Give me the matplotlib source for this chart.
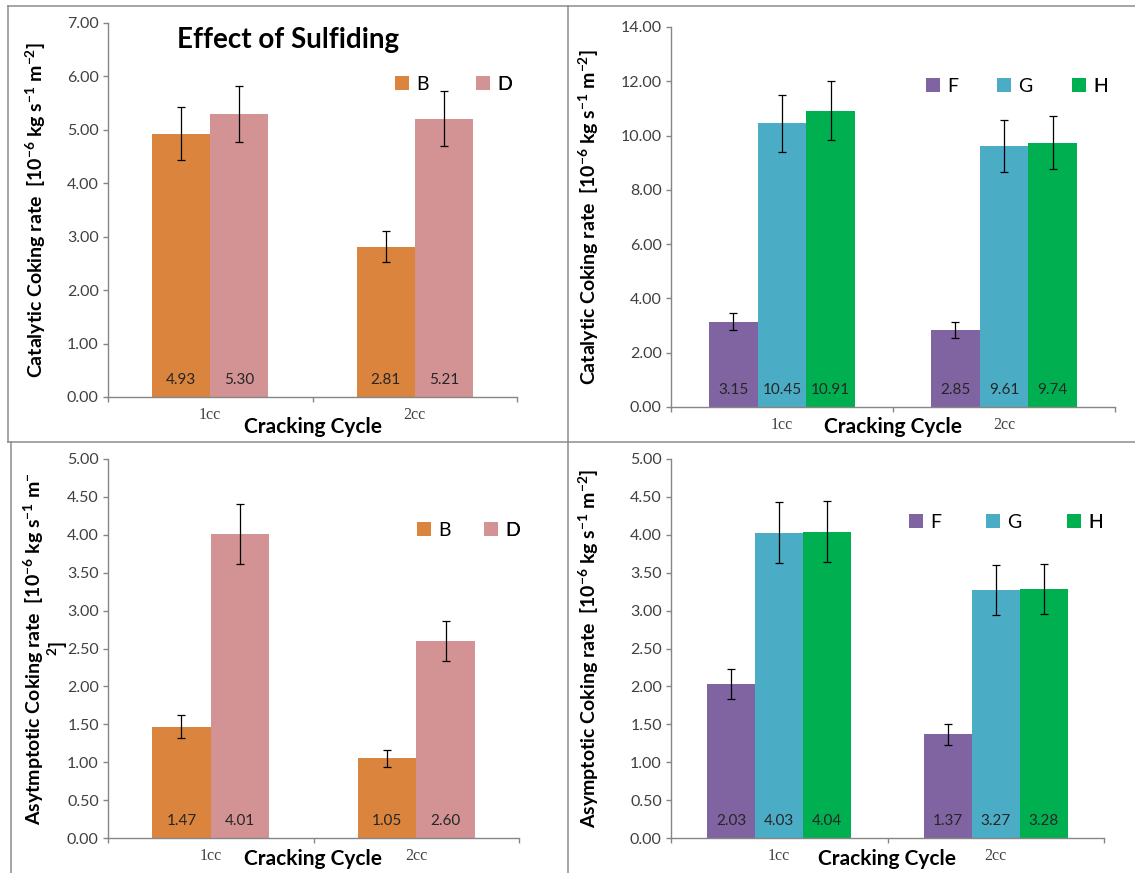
import matplotlib
matplotlib.use('Agg')
import matplotlib.pyplot as plt
from matplotlib.patches import Patch
from matplotlib.lines import Line2D
from matplotlib.ticker import FormatStrFormatter
import numpy as np

plt.rcParams['font.family'] = ['Lato', 'DejaVu Sans']
plt.rcParams['mathtext.fontset'] = 'custom'
plt.rcParams['mathtext.rm'] = 'Lato:bold'
plt.rcParams['mathtext.it'] = 'Lato:bold'
plt.rcParams['mathtext.bf'] = 'Lato:bold'

# ---------------- data ----------------
categories = ['1cc', '2cc']

series_bd = ['B', 'D']
series_fgh = ['F', 'G', 'H']

# Catalytic coking rate
cat_B = [4.93, 2.81]
cat_D = [5.30, 5.21]
cat_B_err = [0.49, 0.29]
cat_D_err = [0.53, 0.52]

cat_F = [3.15, 2.85]
cat_G = [10.45, 9.61]
cat_H = [10.91, 9.74]
cat_F_err = [0.33, 0.29]
cat_G_err = [1.05, 0.96]
cat_H_err = [1.09, 0.98]

# Asymptotic coking rate
asy_B = [1.47, 1.05]
asy_D = [4.01, 2.60]
asy_B_err = [0.15, 0.11]
asy_D_err = [0.40, 0.26]

asy_F = [2.03, 1.37]
asy_G = [4.03, 3.27]
asy_H = [4.04, 3.28]
asy_F_err = [0.20, 0.14]
asy_G_err = [0.40, 0.33]
asy_H_err = [0.40, 0.33]

colors = {'B': '#DA843D', 'D': '#D39294', 'F': '#8064A2', 'G': '#4BACC6', 'H': '#00B050'}

W, H = 1135, 873
fig = plt.figure(figsize=(W / 100, H / 100), dpi=100)
PT = 0.72  # px -> pt


def px_axes(l, t, r, b):
    return fig.add_axes([l / W, 1 - b / H, (r - l) / W, (b - t) / H])


def panel(ax, box, names, values, errs, width, ymax, ystep, ylabel, legend_px, ylab_cx, xlab_dy):
    l, t, r, b = box
    axw, axh = r - l, b - t
    x = np.arange(len(categories))
    n = len(names)
    for i, (nm, v, e) in enumerate(zip(names, values, errs)):
        xs = x + (i - (n - 1) / 2) * width
        ax.bar(xs, v, width=width, color=colors[nm], label=nm, zorder=2)
        ax.errorbar(xs, v, yerr=e, fmt='none', ecolor='black', elinewidth=0.9,
                    capsize=3.2, capthick=0.9, zorder=3)
        for xi, vi in zip(xs, v):
            ax.annotate(f'{vi:.2f}', (xi, 0), xytext=(0, 17 * PT), textcoords='offset points',
                        ha='center', va='center', fontsize=11, color='#262626', zorder=4)
    ax.set_xlim(-0.5, len(categories) - 0.5)
    ax.set_ylim(0, ymax)
    ax.set_yticks(np.arange(0, ymax + ystep / 2, ystep))
    ax.yaxis.set_major_formatter(FormatStrFormatter('%.2f'))
    ax.set_xticks(np.arange(-0.5, len(categories), 1.0))
    ax.set_xticklabels([])
    ax.set_xticks(x, minor=True)
    ax.set_xticklabels(categories, minor=True, fontsize=11.5, family='Liberation Serif', color='#404040')
    ax.tick_params(axis='x', which='minor', length=0, pad=10 * PT)
    ax.tick_params(axis='x', which='major', length=5 * PT, color='#868686', width=1)
    ax.tick_params(axis='y', length=5 * PT, color='#868686', width=1, labelsize=11.5,
                   labelcolor='#404040', pad=3)
    for s in ['top', 'right']:
        ax.spines[s].set_visible(False)
    for s in ['left', 'bottom']:
        ax.spines[s].set_color('#868686')
        ax.spines[s].set_linewidth(1)
    ax.text(0.5, -xlab_dy / axh, 'Cracking Cycle', transform=ax.transAxes,
            ha='center', va='center', fontsize=15, fontweight='bold', color='black')
    ax.set_ylabel(ylabel, fontsize=14, fontweight='bold', linespacing=0.95,
                  multialignment='center', va='center')
    ax.yaxis.set_label_coords((ylab_cx - l) / axw, 0.5)
    # one legend per entry, placed at reference pixel positions
    for j, nm in enumerate(names):
        sx, sy = legend_px[j]
        leg = ax.legend([Patch(facecolor=colors[nm], edgecolor='none')], [nm],
                        loc='upper left', bbox_to_anchor=((sx - l) / axw, 1 - (sy - t) / axh),
                        frameon=False, fontsize=14, handlelength=0.7, handleheight=0.7,
                        handletextpad=0.4, borderaxespad=0, borderpad=0)
        ax.add_artist(leg)


box1 = (108, 23, 517, 397)
box2 = (671, 27, 1115, 407)
box3 = (108, 459, 519, 838)
box4 = (671, 459, 1104, 838)
ax1 = px_axes(*box1)
ax2 = px_axes(*box2)
ax3 = px_axes(*box3)
ax4 = px_axes(*box4)

ylab_cat = 'Catalytic Coking rate  [10$^{-6}$ kg s$^{-1}$ m$^{-2}$]'
ylab_asy1 = 'Asytmptotic Coking rate  [10$^{-6}$ kg s$^{-1}$ m$^{-}$\n$^{2}$]'
ylab_asy2 = 'Asymptotic Coking rate  [10$^{-6}$ kg s$^{-1}$ m$^{-2}$]'

panel(ax1, box1, series_bd, [cat_B, cat_D], [cat_B_err, cat_D_err], 0.284, 7, 1,
      ylab_cat, [(395, 76), (476, 76)], 36, 30)
panel(ax2, box2, series_fgh, [cat_F, cat_G, cat_H], [cat_F_err, cat_G_err, cat_H_err], 0.22, 14, 2,
      ylab_cat, [(926, 78), (997, 78), (1072, 78)], 589, 20)
panel(ax3, box3, series_bd, [asy_B, asy_D], [asy_B_err, asy_D_err], 0.285, 5, 0.5,
      ylab_asy1, [(417, 522), (484, 522)], 46, 21)
panel(ax4, box4, series_fgh, [asy_F, asy_G, asy_H], [asy_F_err, asy_G_err, asy_H_err], 0.222, 5, 0.5,
      ylab_asy2, [(909, 514), (986, 514), (1067, 514)], 589, 21)

ax1.text((288 - 108) / 409, 1 - (40 - 23) / 374, 'Effect of Sulfiding', transform=ax1.transAxes,
         ha='center', va='center', fontsize=20, fontweight='bold', color='black')

# panel borders
bc = '#8C8C8C'
blw = 1.1


def fline(x0, y0, x1, y1):
    fig.add_artist(Line2D([x0 / W, x1 / W], [1 - y0 / H, 1 - y1 / H], color=bc, lw=blw,
                          transform=fig.transFigure))


fline(8, 6, 1135, 6)
fline(8, 6, 8, 442)
fline(568, 6, 568, 873)
fline(8, 442, 1135, 442)
fline(11, 442, 11, 873)

fig.savefig('out.png', dpi=100, facecolor='white')
